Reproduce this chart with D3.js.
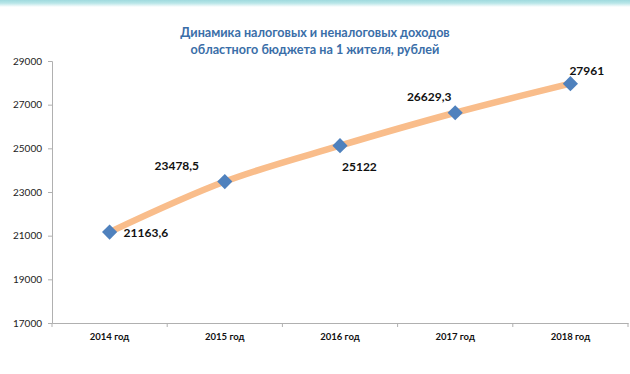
<!DOCTYPE html>
<html>
<head>
<meta charset="utf-8">
<script src="https://cdn.jsdelivr.net/npm/d3@7"></script>
<style>
  body { margin: 0; background: #fff; }
  svg { display: block; font-family: Lato, 'Open Sans', sans-serif; }
</style>
</head>
<body>
<div id="main"></div>
<script>
// data
const years = ['2014 год', '2015 год', '2016 год', '2017 год', '2018 год'];
const values = [21163.6, 23478.5, 25122, 26629.3, 27961];
const valueLabels = ['21163,6', '23478,5', '25122', '26629,3', '27961'];
const yTicks = [17000, 19000, 21000, 23000, 25000, 27000, 29000];
const titleLines = ['Динамика налоговых и неналоговых доходов', 'областного бюджета на 1 жителя, рублей'];

const w = 630;
const h = 374;
const margin = { left: 52, right: 2, top: 61, bottom: 51 };

const svg = d3.select('#main').append('svg').attr('width', w).attr('height', h);

// top band
const grad = svg.append('defs').append('linearGradient')
    .attr('id', 'band').attr('x1', 0).attr('x2', 0).attr('y1', 0).attr('y2', 1);
grad.append('stop').attr('offset', '0%').attr('stop-color', '#9fdade');
grad.append('stop').attr('offset', '45%').attr('stop-color', '#b9e6e8');
grad.append('stop').attr('offset', '100%').attr('stop-color', '#ffffff');
svg.append('rect').attr('x', 0).attr('y', 0).attr('width', w).attr('height', 7).attr('fill', 'url(#band)');

// title
svg.append('g').selectAll('text')
    .data(titleLines)
    .enter()
    .append('text')
    .attr('x', 315)
    .attr('y', (d, i) => 37 + i * 17)
    .attr('text-anchor', 'middle')
    .attr('font-size', '12.6px')
    .attr('font-weight', 'bold')
    .attr('fill', '#3a6ea8')
    .text(d => d);

// scales
const x = d3.scaleBand().domain(years).range([margin.left, w - margin.right]);
const y = d3.scaleLinear().domain([17000, 29000]).range([h - margin.bottom, margin.top]);

// y axis
const yAxis = d3.axisLeft(y).tickValues(yTicks).tickSize(4).tickPadding(6).tickFormat(d => d);
const gy = svg.append('g').attr('transform', `translate(${margin.left},0)`).call(yAxis);
gy.select('.domain').attr('stroke', '#b0b0b0');
gy.selectAll('.tick line').attr('stroke', '#b0b0b0');
gy.selectAll('.tick text').attr('font-size', '10px').attr('fill', '#222').attr('font-family', 'Lato, sans-serif');

// x axis
const xAxis = d3.axisBottom(x).tickSize(0).tickPadding(10);
const gx = svg.append('g').attr('transform', `translate(0,${h - margin.bottom})`).call(xAxis);
gx.select('.domain').attr('stroke', '#b0b0b0');
gx.selectAll('.tick text').attr('font-size', '9.5px').attr('font-weight', 'bold').attr('fill', '#111').attr('font-family', 'Lato, sans-serif');
// boundary ticks between categories
gx.selectAll('.bound')
    .data(years.concat(['end']))
    .enter()
    .append('line')
    .attr('class', 'bound')
    .attr('x1', (d, i) => i < years.length ? x(d) : x.range()[1])
    .attr('x2', (d, i) => i < years.length ? x(d) : x.range()[1])
    .attr('y1', 0)
    .attr('y2', 4)
    .attr('stroke', '#b0b0b0');

const cx = d => x(d) + x.bandwidth() / 2;

// line
const line = d3.line()
    .x((d, i) => cx(years[i]))
    .y(d => y(d))
    .curve(d3.curveMonotoneX);

svg.append('path')
    .datum(values)
    .attr('d', line)
    .attr('fill', 'none')
    .attr('stroke', '#f9bd8b')
    .attr('stroke-width', 6.5)
    .attr('stroke-linecap', 'round');

// markers
svg.append('g').selectAll('path')
    .data(values)
    .enter()
    .append('path')
    .attr('d', d3.symbol().type(d3.symbolSquare).size(115))
    .attr('transform', (d, i) => `translate(${cx(years[i])},${y(d)}) rotate(45)`)
    .attr('fill', '#4f81bd');

// value labels (offsets from point)
const labelOffsets = [[14, 5, 'start'], [-48, -12, 'middle'], [2, 25, 'start'], [-26, -12, 'middle'], [-1, -9, 'start']];
svg.append('g').selectAll('text')
    .data(values)
    .enter()
    .append('text')
    .attr('x', (d, i) => cx(years[i]) + labelOffsets[i][0])
    .attr('y', (d, i) => y(d) + labelOffsets[i][1])
    .attr('text-anchor', (d, i) => labelOffsets[i][2])
    .attr('font-size', '12px')
    .attr('font-weight', 'bold')
    .attr('fill', '#111')
    .text((d, i) => valueLabels[i]);
</script>
</body>
</html>
